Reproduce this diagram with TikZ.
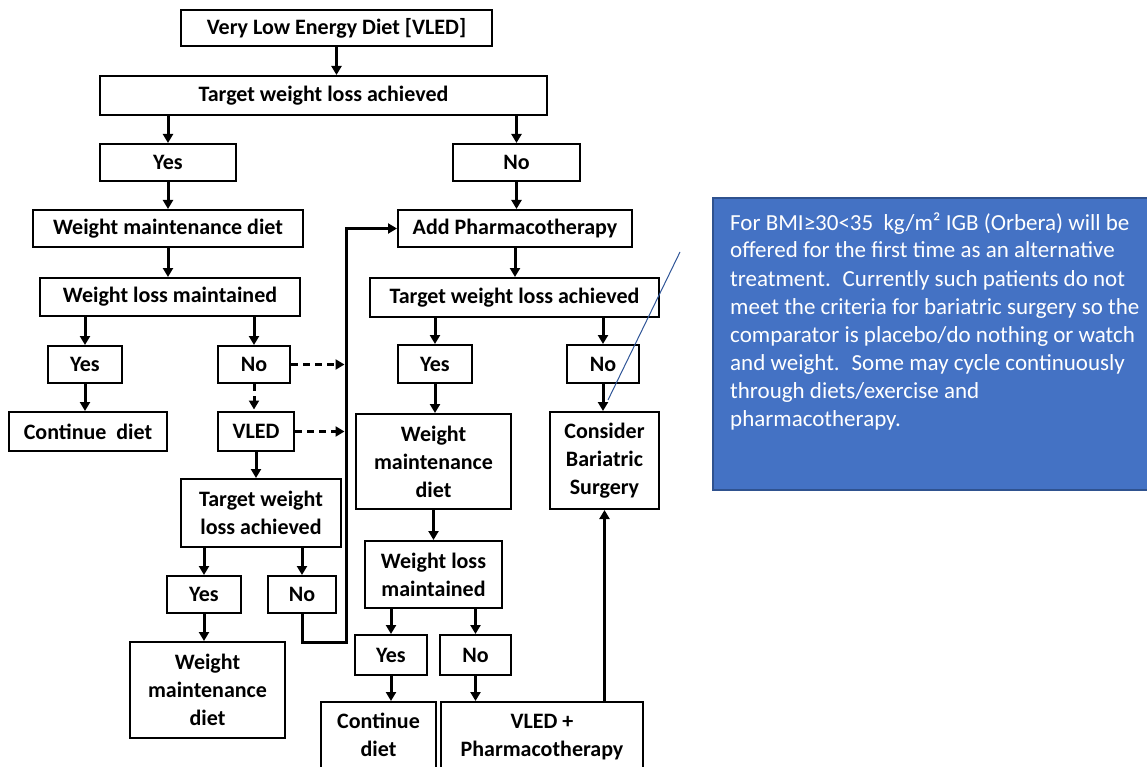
\documentclass[tikz,border=0pt]{standalone}
\usepackage{fontspec}
\setmainfont{Carlito}
\usetikzlibrary{arrows.meta}
\definecolor{noteblue}{HTML}{4472C4}
\definecolor{noteedge}{HTML}{2F528F}
\definecolor{calloutc}{HTML}{2F5597}
\begin{document}
\begin{tikzpicture}[x=1pt,y=-1pt,
  box/.style={draw, line width=2pt, inner sep=0pt, align=center,
    font=\bfseries\fontsize{22}{28}\selectfont},
  arr/.style={line width=3pt, -{Triangle[length=9pt,width=10pt]}},
  darr/.style={arr, dash pattern=on 7pt off 5pt, shorten >=1.5pt},
  callout/.style={line width=1pt, draw=calloutc},
  notebox/.style={draw=noteedge, fill=noteblue, line width=1.5pt, inner sep=0pt},
  noteline/.style={anchor=base west, inner sep=0pt, text=white,
    font=\fontsize{23}{28}\selectfont}]
\useasboundingbox (0,0) rectangle (1147,767);
\clip (0,0) rectangle (1147,767);

% boxes
\node[box, minimum width=311pt, minimum height=36pt] (vled) at (336.5,28) {Very Low Energy Diet [VLED]};
\node[box, minimum width=447pt, minimum height=39pt] (t1) at (323.5,95.5) {Target weight loss achieved};
\node[box, minimum width=136pt, minimum height=37pt] (y1) at (168,162.5) {Yes};
\node[box, minimum width=127pt, minimum height=37pt] (n1) at (516.5,162.5) {No};
\node[box, minimum width=270pt, minimum height=37pt] (wm1) at (168,228.5) {Weight maintenance diet};
\node[box, minimum width=234pt, minimum height=37pt] (ap) at (515,228.5) {Add Pharmacotherapy};
\node[box, minimum width=260pt, minimum height=38pt] (wl1) at (170,297) {Weight loss maintained};
\node[box, minimum width=289pt, minimum height=39pt] (t2) at (514.5,297.5) {Target weight loss achieved};
\node[box, minimum width=74pt, minimum height=37pt] (y2) at (85,364.5) {Yes};
\node[box, minimum width=72pt, minimum height=37pt] (n2) at (254,364.5) {No};
\node[box, minimum width=74pt, minimum height=38pt] (y3) at (435,364) {Yes};
\node[box, minimum width=72pt, minimum height=38pt] (n3) at (603,364) {No};
\node[box, minimum width=158pt, minimum height=39pt] (cd1) at (88,431.5) {Continue\hspace{5pt} diet};
\node[box, minimum width=76pt, minimum height=39pt] (vled2) at (256,431.5) {VLED};
\node[box, minimum width=155pt, minimum height=95pt] (wm2) at (433.5,461.5) {Weight\\maintenance\\diet};
\node[box, minimum width=109pt, minimum height=97pt] (cbs) at (604.5,460.5) {Consider\\Bariatric\\Surgery};
\node[box, minimum width=160pt, minimum height=68pt] (t3) at (261,513) {Target weight\\loss achieved};
\node[box, minimum width=74pt, minimum height=37pt] (y4) at (204,594.5) {Yes};
\node[box, minimum width=68pt, minimum height=37pt] (n4) at (302,594.5) {No};
\node[box, minimum width=155pt, minimum height=96pt] (wm3) at (207.5,690) {Weight\\maintenance\\diet};
\node[box, minimum width=137pt, minimum height=67pt] (wl2) at (433.5,574.5) {Weight loss\\maintained};
\node[box, minimum width=72pt, minimum height=40pt] (y5) at (391,655) {Yes};
\node[box, minimum width=71pt, minimum height=40pt] (n5) at (475.5,655) {No};
\node[box, minimum width=115pt, minimum height=78pt, text depth=12pt] (cd2) at (378.5,741) {Continue\\diet};
\node[box, minimum width=202pt, minimum height=78pt, text depth=12pt] (vp) at (542,741) {VLED +\\Pharmacotherapy};

\coordinate (spine) at (346,0);
\coordinate (jn) at (346,642);

% connectors
\draw[arr] (vled.south) -- (vled.south |- t1.north);
\draw[arr] (t1.south -| y1.north) -- (y1.north);
\draw[arr] (t1.south -| n1.north) -- (n1.north);
\draw[arr] (y1.south) -- (y1.south |- wm1.north);
\draw[arr] (n1.south) -- (n1.south |- ap.north);
\draw[arr] (wm1.south) -- (wm1.south |- wl1.north);
\draw[arr] (ap.south) -- (ap.south |- t2.north);
\draw[arr] (wl1.south -| y2.north) -- (y2.north);
\draw[arr] (wl1.south -| n2.north) -- (n2.north);
\draw[arr] (t2.south -| y3.north) -- (y3.north);
\draw[arr] (t2.south -| n3.north) -- (n3.north);
\draw[arr] (y2.south) -- (y2.south |- cd1.north);
\draw[darr] (n2.south) -- (n2.south |- vled2.north);
\draw[arr] (y3.south) -- (y3.south |- wm2.north);
\draw[arr] (n3.south) -- (n3.south |- cbs.north);
\draw[darr] (n2.east) -- (n2.east -| spine);
\draw[darr] (vled2.east) -- (vled2.east -| spine);
\draw[arr] (vled2.south) -- (vled2.south |- t3.north);
\draw[arr] (t3.south -| y4.north) -- (y4.north);
\draw[arr] (t3.south -| n4.north) -- (n4.north);
\draw[arr] (y4.south) -- (y4.south |- wm3.north);
\draw[arr] (n4.south) |- (jn) |- (ap.west);
\draw[arr] (wm2.south) -- (wm2.south |- wl2.north);
\draw[arr] (wl2.south -| y5.north) -- (y5.north);
\draw[arr] (wl2.south -| n5.north) -- (n5.north);
\draw[arr] (y5.south) -- (y5.south |- cd2.north);
\draw[arr] (n5.south) -- (n5.south |- vp.north);
\draw[arr] (vp.north -| cbs.south) -- (cbs.south);

% callout
\node[notebox, minimum width=439pt, minimum height=292pt] (note) at (932.5,344) {};
\coordinate (cl1) at (680,252);
\coordinate (cl2) at (608,400);
\draw[callout] (cl1) -- (cl2);
\node[noteline] (l1) at (730,230) {For BMI≥30<35\hspace{5pt} kg/m² IGB (Orbera) will be};
\node[noteline] (l2) at (730,258) {offered for the first time as an alternative};
\node[noteline] (l3) at (730,286) {treatment.\hspace{5pt} Currently such patients do not};
\node[noteline] (l4) at (730,314) {meet the criteria for bariatric surgery so the};
\node[noteline] (l5) at (730,342) {comparator is placebo/do nothing or watch};
\node[noteline] (l6) at (730,370) {and weight.\hspace{5pt} Some may cycle continuously};
\node[noteline] (l7) at (730,398) {through diets/exercise and};
\node[noteline] (l8) at (730,426) {pharmacotherapy.};
\end{tikzpicture}
\end{document}
